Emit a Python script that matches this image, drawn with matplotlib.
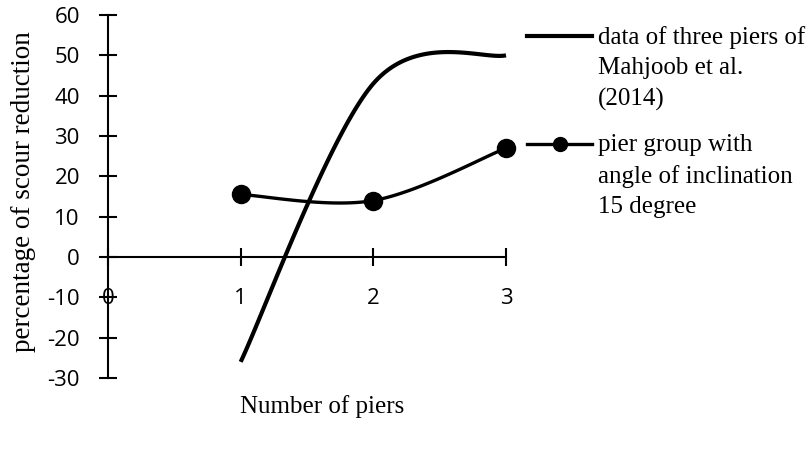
import numpy as np
import matplotlib
matplotlib.use("Agg")
import matplotlib.pyplot as plt
from matplotlib.lines import Line2D

# ---- data ----
piers = [1, 2, 3]
mahjoob = [-26, 43, 50]
inclined15 = [15.5, 14, 27]
label_mahjoob = "data of three piers of\nMahjoob et al.\n(2014)"
label_incl = "pier group with\nangle of inclination\n15 degree"
y_ticks = [-30, -20, -10, 0, 10, 20, 30, 40, 50, 60]
x_ticks = [0, 1, 2, 3]
x_title = "Number of piers"
y_title = "percentage of scour reduction"


def excel_smooth(xs, ys, n=60):
    """Excel-like smoothed line (cubic Bezier, Catmull-Rom control points)."""
    P = np.column_stack([xs, ys]).astype(float)
    ext = np.vstack([P[0], P, P[-1]])
    out = []
    t = np.linspace(0, 1, n)[:, None]
    for i in range(len(P) - 1):
        p0, p1, p2, p3 = ext[i], ext[i + 1], ext[i + 2], ext[i + 3]
        c1 = p1 + (p2 - p0) / 6.0
        c2 = p2 - (p3 - p1) / 6.0
        seg = ((1 - t) ** 3) * p1 + 3 * ((1 - t) ** 2) * t * c1 + 3 * (1 - t) * t ** 2 * c2 + t ** 3 * p2
        out.append(seg if i == 0 else seg[1:])
    out = np.vstack(out)
    return out[:, 0], out[:, 1]


W, H = 811, 450
fig = plt.figure(figsize=(W / 100, H / 100), dpi=100)
ax = fig.add_axes([108 / W, (H - 378) / H, (506 - 108) / W, (378 - 15) / H])
ax.set_xlim(0, 3)
ax.set_ylim(-30, 60)

sx, sy = excel_smooth(piers, mahjoob)
ax.plot(sx, sy, color="black", lw=3.0, solid_capstyle="butt", clip_on=False, zorder=3)
sx2, sy2 = excel_smooth(piers, inclined15)
ax.plot(sx2, sy2, color="black", lw=2.4, clip_on=False, zorder=3)
ax.plot(piers, inclined15, ls="none", marker="o", ms=13, color="black", clip_on=False, zorder=4)

for s in ["top", "right"]:
    ax.spines[s].set_visible(False)
ax.spines["left"].set_position(("data", 0))
ax.spines["bottom"].set_position(("data", 0))
for s in ["left", "bottom"]:
    ax.spines[s].set_linewidth(1.5)
    ax.spines[s].set_zorder(2)

ax.set_xticks(x_ticks)
ax.set_yticks(y_ticks)
ax.set_xticklabels([str(v) for v in x_ticks])
ax.set_yticklabels([str(v) for v in y_ticks])
ax.tick_params(axis="both", direction="inout", length=12.5, width=1.5,
               labelsize=16, colors="black")
ax.tick_params(axis="y", pad=14)
ax.tick_params(axis="x", pad=16)
for lab in ax.get_xticklabels() + ax.get_yticklabels():
    lab.set_fontfamily("Open Sans")
ax.patch.set_visible(False)

serif = "Liberation Serif"
fig.text(322 / W, 1 - 413 / H, x_title, ha="center", va="baseline",
         fontsize=18, family=serif)
fig.text(24 / W, 1 - 192 / H, y_title, ha="center", va="center",
         rotation=90, fontsize=19.5, family=serif)

# legend (manual, Excel-like: handle aligned with first text line)
fig.add_artist(Line2D([527 / W, 592 / W], [1 - 36 / H, 1 - 36 / H],
                      transform=fig.transFigure, color="black", lw=3.0))
fig.add_artist(Line2D([527 / W, 592 / W], [1 - 144 / H, 1 - 144 / H],
                      transform=fig.transFigure, color="black", lw=2.4))
fig.add_artist(Line2D([560 / W], [1 - 144 / H], transform=fig.transFigure,
                      color="black", marker="o", ms=10, ls="none"))
fig.text(598 / W, 1 - 26 / H, label_mahjoob, ha="left", va="top",
         fontsize=18, family=serif, linespacing=1.48)
fig.text(598 / W, 1 - 134 / H, label_incl, ha="left", va="top",
         fontsize=18, family=serif, linespacing=1.48)

fig.savefig("out.png", dpi=100)
